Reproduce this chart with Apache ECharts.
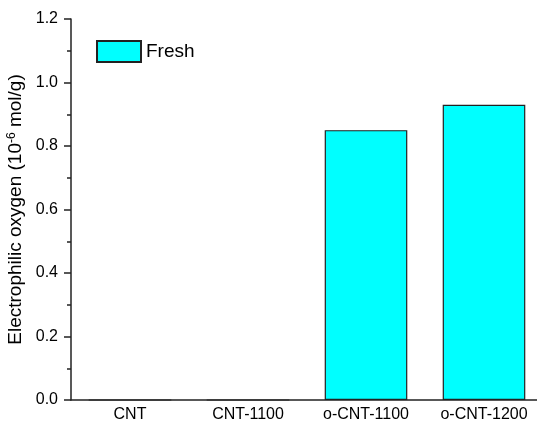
<!DOCTYPE html>
<html>
<head>
<meta charset="utf-8">
<script src="https://cdn.jsdelivr.net/npm/echarts@6/dist/echarts.min.js"></script>
<style>
  html, body { margin: 0; padding: 0; background: #fff; }
  #chart { width: 537px; height: 423px; }
</style>
</head>
<body>
<div id="chart"></div>
<script>
// Samples and electrophilic oxygen content (10^-6 mol/g)
const categories = ['CNT', 'CNT-1100', 'o-CNT-1100', 'o-CNT-1200'];
const freshValues = [0, 0, 0.85, 0.93];
const seriesName = 'Fresh';

const axisColor = '#222';
const fontFamily = '"Liberation Sans", Arial, sans-serif';

const chart = echarts.init(document.getElementById('chart'));
chart.setOption({
  animation: false,
  backgroundColor: '#fff',
  grid: {
    left: 71, right: -6, top: 19, bottom: 23,
    containLabel: false,
    outerBoundsMode: 'none'
  },
  legend: {
    data: [seriesName],
    left: 91,
    top: 35,
    itemWidth: 44,
    itemHeight: 21,
    itemGap: 7,
    icon: 'rect',
    textStyle: { fontFamily, fontSize: 19, color: '#000' }
  },
  xAxis: {
    type: 'category',
    data: categories,
    boundaryGap: true,
    axisLine: { lineStyle: { color: axisColor, width: 1.5 } },
    axisTick: { show: false },
    axisLabel: { fontFamily, fontSize: 16, color: '#000', margin: 7 },
    splitLine: { show: false }
  },
  yAxis: {
    type: 'value',
    min: 0,
    max: 1.2,
    interval: 0.2,
    name: '{n|Electrophilic oxygen (10}{s|-6}{n| mol/g)}',
    nameLocation: 'middle',
    nameGap: 43,
    nameRotate: 90,
    nameTextStyle: {
      rich: {
        n: { fontFamily, fontSize: 19, color: '#000' },
        s: { fontFamily, fontSize: 12, color: '#000', verticalAlign: 'top', padding: [0, 0, 8, 0] }
      }
    },
    axisLine: { show: true, lineStyle: { color: axisColor, width: 1.5 } },
    axisTick: { show: true, inside: false, length: 7, lineStyle: { color: axisColor, width: 1.5 } },
    minorTick: { show: true, splitNumber: 2, length: 4, lineStyle: { color: axisColor, width: 1.5 } },
    axisLabel: {
      fontFamily, fontSize: 16, color: '#000', margin: 13,
      formatter: v => v.toFixed(1)
    },
    splitLine: { show: false }
  },
  series: [{
    name: seriesName,
    type: 'bar',
    data: freshValues,
    barWidth: '70%',
    itemStyle: { color: '#00FFFF', borderColor: '#222', borderWidth: 1.2 }
  }]
});
</script>
</body>
</html>
